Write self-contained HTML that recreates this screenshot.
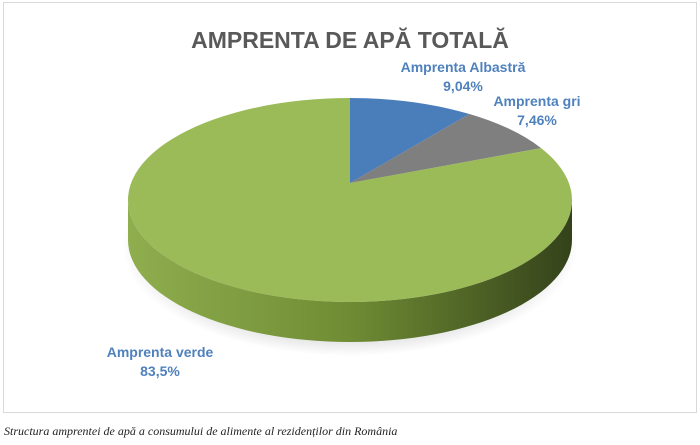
<!DOCTYPE html>
<html><head><meta charset="utf-8"><style>
body{margin:0;width:700px;height:445px;background:#fff;overflow:hidden;font-family:"Liberation Sans",sans-serif}
#frame{position:absolute;left:3px;top:2px;width:692px;height:409px;border:1px solid #d9d9d9}
#cap{position:absolute;left:4px;top:424px;font:italic 12px "Liberation Serif",serif;color:#222}
</style></head><body>
<div id="frame"></div>
<svg id="chart" width="700" height="445" style="position:absolute;left:0;top:0">
<defs>
<linearGradient id="side" x1="0" x2="1" y1="0" y2="0">
<stop offset="0" stop-color="#8fae4e"/><stop offset="0.5" stop-color="#6f8c34"/><stop offset="1" stop-color="#34421a"/>
</linearGradient>
<radialGradient id="shadow" cx="0.5" cy="0.5" r="0.5"><stop offset="0.8" stop-color="#000" stop-opacity="0.15"/><stop offset="1" stop-color="#000" stop-opacity="0"/></radialGradient>
</defs>
<text x="350" y="48" text-anchor="middle" font-size="23" font-weight="bold" fill="#595959">AMPRENTA DE APĂ TOTALĂ</text>
</svg>
<div id="cap">Structura amprentei de apă a consumului de alimente al rezidenților din România</div>
<script>
const labels=["Amprenta Albastră","Amprenta gri","Amprenta verde"];
const values=[9.04,7.46,83.5];
const valueText=["9,04%","7,46%","83,5%"];
const colors=["#4a7ebb","#7f7f7f","#9bbb59"];
const NS="http://www.w3.org/2000/svg";
const svg=document.getElementById('chart');
const cx=350,cy=200,rx=222,ry=102,depth=40,ax=350,ay=183;
function pt(a){return [cx+rx*Math.sin(a),cy-ry*Math.cos(a)];}
function mk(t,attrs){const e=document.createElementNS(NS,t);for(const k in attrs)e.setAttribute(k,attrs[k]);svg.appendChild(e);return e;}
const sh=mk('ellipse',{cx:cx,cy:cy+depth+6,rx:rx+6,ry:ry+8,fill:'url(#shadow)'});


const side=mk('path',{d:`M${cx-rx},${cy} L${cx-rx},${cy+depth} A${rx},${ry} 0 0 0 ${cx+rx},${cy+depth} L${cx+rx},${cy} A${rx},${ry} 0 0 1 ${cx-rx},${cy} Z`,fill:'url(#side)'});


const total=values.reduce((a,b)=>a+b,0);
let start=0;
values.forEach((v,i)=>{
  const end=start+v/total*2*Math.PI;
  const [x1,y1]=pt(start),[x2,y2]=pt(end);
  const large=(end-start)>Math.PI?1:0;
  const p=mk('path',{d:`M${ax},${ay} L${x1},${y1} A${rx},${ry} 0 ${large} 1 ${x2},${y2} Z`,fill:colors[i]});
  
  
  start=end;
});
const lpos=[[463,72],[537,106],[160,357]];
labels.forEach((l,i)=>{
  const t=mk('text',{x:lpos[i][0],y:lpos[i][1],'text-anchor':'middle','font-size':'14','font-weight':'bold',fill:'#4f81bd'});
  
  
  const a=document.createElementNS(NS,'tspan');a.setAttribute('x',lpos[i][0]);a.textContent=l;t.appendChild(a);
  const b=document.createElementNS(NS,'tspan');b.setAttribute('x',lpos[i][0]);b.setAttribute('dy','19');b.textContent=valueText[i];t.appendChild(b);
});
</script>
</body></html>
